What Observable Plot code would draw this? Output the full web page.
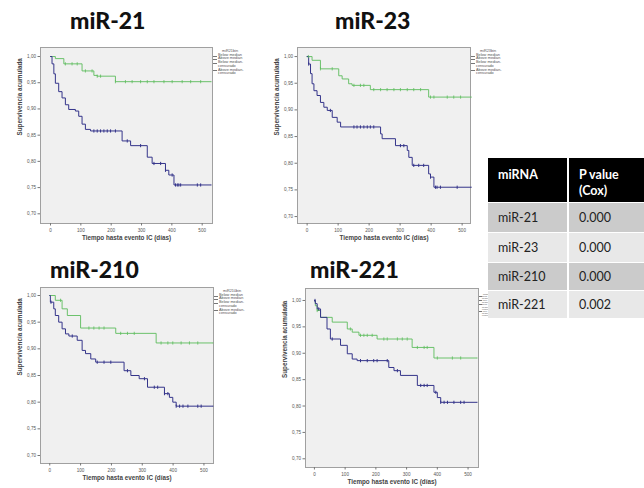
<!DOCTYPE html>
<html><head><meta charset="utf-8">
<script src="https://cdn.jsdelivr.net/npm/d3@7"></script>
<script src="https://cdn.jsdelivr.net/npm/@observablehq/plot@0.6"></script>
<style>
body{margin:0;background:#fff;}
#root{position:relative;width:644px;height:488px;overflow:hidden;font-family:Lato,"Open Sans",sans-serif;}
.title{position:absolute;font-family:Lato,sans-serif;font-weight:900;font-size:23px;color:#111;line-height:1;}
.leg{position:absolute;font-family:"Liberation Sans",sans-serif;font-size:3.8px;line-height:3.7px;color:#555;}
.leg div{position:relative;padding-left:5px;}
.leg div span{position:absolute;left:0;top:1.8px;width:4px;height:0;border-top:0.6px solid #777;}
.leg.tiny{font-size:1.9px;line-height:2.1px;}
.leg.tiny div{padding-left:3px;}
.leg.tiny div span{top:1px;width:2.5px;}
table{position:absolute;border-collapse:collapse;font-family:Lato,sans-serif;}
td,th{padding:0 0 0 10px;text-align:left;vertical-align:middle;}
th{background:#000;color:#fff;font-weight:700;font-size:12.5px;line-height:16px;vertical-align:top;padding-top:9px;}
td{font-size:12.5px;color:#222;border-top:1px solid #fff;}
th+th,td+td{border-left:2px solid #fff;}
</style>
</head><body><div id="root"></div>
<script>
const xTicks = [0, 100, 200, 300, 400, 500];
const yTicks = [0.70, 0.75, 0.80, 0.85, 0.90, 0.95, 1.00];
const legendItems = ["Below median", "Above median", "Below median-censurado", "Above median-censurado"];

const titles = ["miR-21", "miR-23", "miR-210", "miR-221"];
const legendTitles = ["miR21bin", "miR23bin", "miR210bin", "miR221bin"];

// miR-21
const mir21BelowT = [0, 5, 11, 16, 27, 38, 49, 60, 82, 93, 104, 115, 132, 236, 264, 319, 335, 379, 390, 407, 530];
const mir21BelowS = [1.0, 0.986, 0.967, 0.949, 0.933, 0.921, 0.908, 0.899, 0.896, 0.886, 0.871, 0.861, 0.858, 0.839, 0.830, 0.808, 0.796, 0.783, 0.774, 0.755, 0.755];
const mir21AboveT = [0, 16, 44, 104, 143, 154, 214, 530];
const mir21AboveS = [1.0, 0.996, 0.986, 0.9725, 0.964, 0.9625, 0.952, 0.952];
const mir21BelowCens = [143, 154, 165, 176, 187, 198, 214, 253, 297, 341, 363, 379, 401, 412, 418, 423, 429, 484, 495];
const mir21AboveCens = [49, 71, 88, 115, 137, 154, 165, 214, 247, 269, 297, 319, 341, 374, 401, 434, 462, 495];

// miR-23
const mir23BelowT = [0, 5, 11, 16, 22, 32, 43, 54, 65, 81, 97, 108, 237, 242, 285, 323, 328, 339, 392, 398, 409, 530];
const mir23BelowS = [1.0, 0.986, 0.968, 0.949, 0.936, 0.927, 0.914, 0.905, 0.899, 0.886, 0.877, 0.868, 0.855, 0.846, 0.833, 0.824, 0.811, 0.796, 0.78, 0.774, 0.755, 0.755];
const mir23AboveT = [0, 16, 43, 102, 113, 134, 145, 204, 392, 530];
const mir23AboveS = [1.0, 0.993, 0.977, 0.964, 0.958, 0.949, 0.946, 0.938, 0.924, 0.924];
const mir23BelowCens = [5, 75, 151, 161, 172, 183, 194, 204, 215, 301, 312, 344, 360, 376, 398, 414, 419, 430, 484];
const mir23AboveCens = [4, 43, 81, 151, 172, 183, 215, 237, 258, 280, 301, 323, 344, 366, 398, 409, 452, 473, 495];

// miR-210
const mir210BelowT = [0, 2, 13, 18, 29, 40, 51, 62, 89, 105, 116, 133, 149, 241, 263, 290, 317, 372, 388, 399, 410, 530];
const mir210BelowS = [1.0, 0.9875, 0.975, 0.9625, 0.95, 0.9375, 0.928, 0.924, 0.916, 0.897, 0.891, 0.881, 0.875, 0.859, 0.85, 0.844, 0.828, 0.816, 0.809, 0.8, 0.7925, 0.7925];
const mir210AboveT = [0, 18, 40, 57, 100, 214, 345, 530];
const mir210AboveS = [1.0, 0.991, 0.975, 0.9625, 0.939, 0.929, 0.911, 0.911];
const mir210BelowCens = [4, 73, 154, 176, 198, 252, 307, 339, 350, 372, 383, 410, 421, 432, 448, 480, 491];
const mir210AboveCens = [35, 127, 143, 160, 176, 230, 252, 274, 361, 383, 399, 426, 453, 480];

// miR-221
const mir221BelowT = [0, 3, 9, 20, 41, 52, 85, 107, 123, 139, 242, 259, 280, 335, 389, 400, 411, 530];
const mir221BelowS = [1.0, 0.994, 0.984, 0.968, 0.946, 0.927, 0.915, 0.899, 0.889, 0.886, 0.873, 0.867, 0.858, 0.839, 0.826, 0.816, 0.807, 0.807];
const mir221AboveT = [0, 3, 9, 20, 58, 107, 123, 145, 204, 318, 389, 530];
const mir221AboveS = [1.0, 0.99, 0.981, 0.968, 0.959, 0.946, 0.94, 0.934, 0.927, 0.911, 0.891, 0.891];
const mir221BelowCens = [2, 14, 58, 150, 172, 193, 204, 237, 270, 346, 357, 367, 395, 411, 422, 433, 454, 476, 487];
const mir221AboveCens = [9, 117, 150, 161, 172, 188, 226, 237, 270, 286, 302, 335, 357, 367, 400, 449, 476];

// table
const tableMirna = ["miR-21", "miR-23", "miR-210", "miR-221"];
const tablePvalue = ["0.000", "0.000", "0.000", "0.002"];

const BLUE = "#34348a", GREEN = "#5cbc5c";
const vtick = {draw(ctx, size) { const r = Math.sqrt(size / Math.PI); ctx.moveTo(0, -r); ctx.lineTo(0, r); }};
const fmt = d => d.toFixed(2).replace(".", ",");
const root = document.getElementById("root");

function rows(T, S) { return T.map((t, i) => ({t, s: S[i]})); }
function censRows(C, T, S) {
  return C.map(t => { let i = 0; while (i + 1 < T.length && T[i + 1] <= t) i++; return {t, s: S[i]}; });
}

function panel(cfg) {
  const [fx0, fy0, fx1, fy1] = cfg.frame;
  const mL = 42, mT = 6, mR = 2, mB = 24;
  const W = fx1 - fx0 + mL + mR, H = fy1 - fy0 + mT + mB;
  const p = Plot.plot({
    width: W, height: H, marginLeft: mL, marginTop: mT, marginRight: mR, marginBottom: mB,
    style: {fontFamily: "Liberation Sans, sans-serif", fontSize: "4.6px", color: "#555", background: "transparent", overflow: "visible"},
    x: {domain: cfg.xdom, label: null},
    y: {domain: cfg.ydom, label: null},
    marks: [
      Plot.frame({fill: "#f0f0f0", stroke: "#a0a0a0", strokeWidth: 1}),
      Plot.axisX({ticks: xTicks, tickSize: 2.5, tickPadding: 3, tickFormat: d => String(d), stroke: "#777", fontSize: 4.6}),
      Plot.axisY({ticks: yTicks, tickSize: 2.5, tickPadding: 2, tickFormat: fmt, stroke: "#777", fontSize: 4.6}),
      Plot.line(rows(cfg.aT, cfg.aS), {x: "t", y: "s", curve: "step-after", stroke: GREEN, strokeWidth: 0.9}),
      Plot.line(rows(cfg.bT, cfg.bS), {x: "t", y: "s", curve: "step-after", stroke: BLUE, strokeWidth: 1}),
      Plot.dot(censRows(cfg.aC, cfg.aT, cfg.aS), {x: "t", y: "s", symbol: vtick, r: 1.6, stroke: GREEN, fill: "none", strokeWidth: 0.8}),
      Plot.dot(censRows(cfg.bC, cfg.bT, cfg.bS), {x: "t", y: "s", symbol: vtick, r: 1.6, stroke: BLUE, fill: "none", strokeWidth: 1}),
      Plot.text(["Tiempo hasta evento IC (días)"], {frameAnchor: "bottom", dy: 16, text: d => d, fontSize: 6.3, fontWeight: "bold", fill: "#444"}),
      Plot.text(["Supervivencia acumulada"], {frameAnchor: "left", dx: -21, rotate: -90, text: d => d, fontSize: 6.3, fontWeight: "bold", fill: "#444"})
    ]
  });
  p.style.position = "absolute";
  p.style.left = (fx0 - mL) + "px";
  p.style.top = (fy0 - mT) + "px";
  root.appendChild(p);

  const t = document.createElement("div");
  t.className = "title"; t.textContent = cfg.title;
  t.style.left = cfg.titlePos[0] + "px"; t.style.top = cfg.titlePos[1] + "px";
  root.appendChild(t);

  const lg = document.createElement("div");
  lg.className = "leg" + (cfg.tinyLegend ? " tiny" : "");
  lg.style.left = (fx1 + 1) + "px"; lg.style.top = (fy0 + (cfg.tinyLegend ? 5 : 3)) + "px";
  lg.style.width = cfg.tinyLegend ? "9px" : "34px";
  const h = document.createElement("div"); h.textContent = cfg.legendTitle; h.style.paddingLeft = cfg.tinyLegend ? "4px" : "9px"; lg.appendChild(h);
  legendItems.forEach(s => { const d = document.createElement("div"); d.innerHTML = "<span></span>" + s; lg.appendChild(d); });
  root.appendChild(lg);
}

panel({title: titles[0], titlePos: [70, 9], legendTitle: legendTitles[0], frame: [40, 47, 212, 223], xdom: [-33, 534], ydom: [0.6815, 1.0172],
  bT: mir21BelowT, bS: mir21BelowS, aT: mir21AboveT, aS: mir21AboveS, bC: mir21BelowCens, aC: mir21AboveCens});
panel({title: titles[1], titlePos: [335, 9], legendTitle: legendTitles[1], frame: [297, 47, 470, 223], xdom: [-31, 527], ydom: [0.687, 1.017],
  bT: mir23BelowT, bS: mir23BelowS, aT: mir23AboveT, aS: mir23AboveS, bC: mir23BelowCens, aC: mir23AboveCens});
panel({title: titles[2], titlePos: [50, 258], legendTitle: legendTitles[2], frame: [40, 287, 213, 463], xdom: [-30, 531], ydom: [0.685, 1.015],
  bT: mir210BelowT, bS: mir210BelowS, aT: mir210AboveT, aS: mir210AboveS, bC: mir210BelowCens, aC: mir210AboveCens});
panel({title: titles[3], titlePos: [310, 258], legendTitle: legendTitles[3], tinyLegend: true, frame: [305, 288, 478, 467], xdom: [-29, 534], ydom: [0.6835, 1.0227],
  bT: mir221BelowT, bS: mir221BelowS, aT: mir221AboveT, aS: mir221AboveS, bC: mir221BelowCens, aC: mir221AboveCens});

// table
const tbl = document.createElement("table");
tbl.style.left = "488px"; tbl.style.top = "158px"; tbl.style.width = "156px";
let html = '<tr style="height:44px"><th style="width:69px">miRNA</th><th>P value<br>(Cox)</th></tr>';
tableMirna.forEach((m, i) => {
  const bg = i % 2 === 0 ? "#cbcbcb" : "#e8e8e8";
  html += `<tr style="height:${i === 0 || i === 1 ? 30 : 28}px;background:${bg}"><td>${m}</td><td>${tablePvalue[i]}</td></tr>`;
});
tbl.innerHTML = html;
root.appendChild(tbl);
</script>
</body></html>
